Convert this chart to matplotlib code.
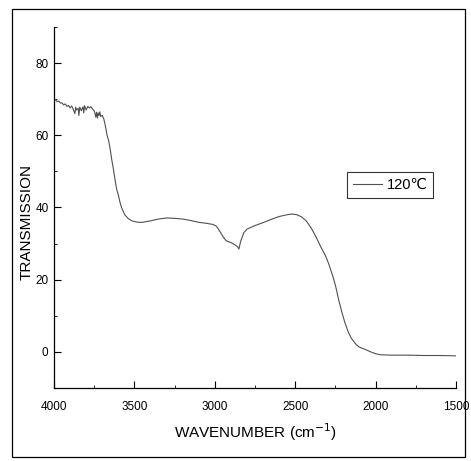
import matplotlib
matplotlib.use("Agg")
import matplotlib.pyplot as plt
from matplotlib.patches import Rectangle
from matplotlib.ticker import MultipleLocator

wavenumber = [4000, 3990, 3980, 3970, 3960, 3950, 3940, 3930, 3920, 3910, 3900, 3890, 3880,
              3870, 3865, 3860, 3850, 3845, 3840, 3830, 3820, 3815, 3810, 3800, 3790, 3780,
              3770, 3760, 3750, 3745, 3740, 3735, 3730, 3725, 3720, 3715, 3710, 3700, 3690,
              3680, 3670, 3660, 3650, 3640, 3630, 3620, 3610, 3600, 3590, 3580, 3570, 3560,
              3540, 3520, 3500, 3475, 3450, 3400, 3350, 3300, 3250, 3200, 3150, 3100, 3050,
              3010, 2990, 2970, 2950, 2930, 2900, 2880, 2860, 2850, 2840, 2820, 2800, 2750,
              2700, 2650, 2600, 2550, 2520, 2490, 2460, 2430, 2400, 2370, 2340, 2310, 2290,
              2270, 2250, 2230, 2210, 2190, 2170, 2150, 2120, 2100, 2060, 2030, 2000, 1970,
              1900, 1800, 1700, 1600, 1500]
transmission = [69.9, 69.8, 69.3, 69.5, 68.9, 69.0, 68.4, 68.7, 68.0, 68.3, 67.6, 68.1, 67.2,
                66.0, 67.8, 67.0, 67.5, 65.5, 67.8, 66.8, 67.9, 66.2, 68.2, 67.0, 68.0, 67.6,
                67.9, 67.3, 66.8, 66.0, 65.0, 66.4, 64.8, 66.2, 65.5, 66.5, 65.2, 65.5, 64.5,
                62.5, 60.0, 58.5, 56.0, 53.0, 50.5, 47.5, 45.0, 43.5, 41.5, 40.0, 39.0, 38.0,
                37.0, 36.4, 36.1, 35.9, 35.9, 36.3, 36.8, 37.1, 37.0, 36.8, 36.4, 35.9, 35.6,
                35.3, 34.8, 33.5, 32.0, 30.8, 30.3, 29.8, 29.2, 28.5, 30.5, 33.0, 34.0, 35.0,
                35.8, 36.7, 37.5, 38.0, 38.2, 38.0, 37.4, 36.2, 34.3, 31.8, 29.0, 26.5, 24.2,
                21.5, 18.5, 14.5, 11.0, 8.0, 5.5, 3.7, 2.0, 1.3, 0.6, 0.0, -0.5, -0.8,
                -0.9, -0.9, -1.0, -1.0, -1.1]

x_ticks = [4000, 3500, 3000, 2500, 2000, 1500]
y_ticks = [0, 20, 40, 60, 80]
series_label = "120\u2103"

fams = ["Liberation Sans Narrow", "Liberation Sans", "DejaVu Sans"]
plt.rcParams["font.family"] = fams

fig = plt.figure(figsize=(4.71, 4.61), dpi=100)
ax = fig.add_axes([54 / 471, 1 - 388 / 461, 402 / 471, 361 / 461])

ax.plot(wavenumber, transmission, color="#505050", linewidth=0.8, label=series_label)

ax.set_xlim(4000, 1500)
ax.set_ylim(-10, 90)
ax.set_xticks(x_ticks)
ax.set_yticks(y_ticks)
ax.xaxis.set_minor_locator(MultipleLocator(250))
ax.yaxis.set_minor_locator(MultipleLocator(10))
ax.tick_params(axis="both", which="major", direction="in", length=5, width=0.8,
               labelsize=8.5)
ax.tick_params(axis="x", which="major", pad=9)
ax.tick_params(axis="y", which="major", pad=4)
ax.tick_params(axis="both", which="minor", direction="in", length=2.5, width=0.6)
ax.spines["top"].set_visible(False)
ax.spines["right"].set_visible(False)
for s in ("left", "bottom"):
    ax.spines[s].set_linewidth(0.9)

ax.set_xlabel("WAVENUMBER (cm$^{-1}$)", fontsize=11, va="center")
ax.set_ylabel("TRANSMISSION", fontsize=11, va="center")
ax.xaxis.set_label_coords(0.502, -0.122)
ax.yaxis.set_label_coords(-0.067, 0.46)

leg = ax.legend(loc="upper left", bbox_to_anchor=(0.729, 0.598), frameon=True,
                fancybox=False, edgecolor="black", fontsize=10.5, handlelength=2.0,
                borderpad=0.4, handletextpad=0.3, borderaxespad=0)
leg.get_frame().set_linewidth(0.8)

fig.patches.append(Rectangle((12 / 471, 4 / 461), 453 / 471, 448 / 461,
                             transform=fig.transFigure, fill=False,
                             edgecolor="black", linewidth=0.9))

fig.savefig("out.png", dpi=100)
